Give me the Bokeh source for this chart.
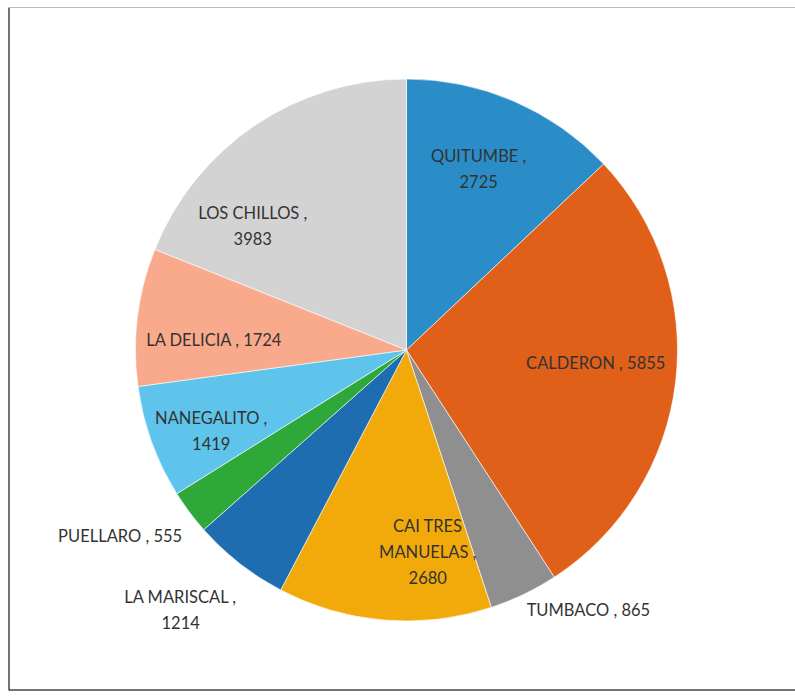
import math
from bokeh.plotting import figure
from bokeh.models import Range1d, ColumnDataSource
from bokeh.core.properties import value
from bokeh.embed import file_html
from bokeh.resources import INLINE

# ---- data ----
zones = ["QUITUMBE", "CALDERON", "TUMBACO", "CAI TRES MANUELAS", "LA MARISCAL",
         "PUELLARO", "NANEGALITO", "LA DELICIA", "LOS CHILLOS"]
counts = [2725, 5855, 865, 2680, 1214, 555, 1419, 1724, 3983]
label_texts = ["QUITUMBE ,\n2725", "CALDERON , 5855", "TUMBACO , 865",
               "CAI TRES\nMANUELAS ,\n2680", "LA MARISCAL ,\n1214", "PUELLARO , 555",
               "NANEGALITO ,\n1419", "LA DELICIA , 1724", "LOS CHILLOS ,\n3983"]

# ---- style ----
colors = ["#2a8dc7", "#e0601a", "#8f8f8f", "#f2aa0a", "#1f6db1",
          "#2fa83a", "#5ec4ec", "#f9aa8c", "#d3d3d3"]
# label placement: angle (deg, clockwise from top) and radius fraction
label_angle = [21.7, 94.0, 145.0, 174.0, 221.0, 237.0, 247.5, 273.0, 309.0]
label_rfrac = [0.72, 0.70, 1.17, 0.75, 1.27, 1.26, 0.78, 0.71, 0.73]

W, H = 795, 697
CX, CY, R = 406, 347.5, 271

total = sum(counts)
starts, ends = [], []
acc = 0.0
for c in counts:
    f0 = acc / total
    acc += c
    f1 = acc / total
    starts.append(math.pi / 2 - 2 * math.pi * f0)
    ends.append(math.pi / 2 - 2 * math.pi * f1)

src = ColumnDataSource(dict(start=starts, end=ends, color=colors, zone=zones))

p = figure(width=W, height=H, output_backend="svg", toolbar_location=None,
           x_range=Range1d(0, W), y_range=Range1d(0, H), min_border=0)
p.axis.visible = False
p.grid.visible = False
p.outline_line_color = None
p.background_fill_color = "white"

p.wedge(x=CX, y=CY, radius=R, start_angle="start", end_angle="end", direction="clock",
        fill_color="color", line_color="white", line_width=0.6, source=src)

lx, ly = [], []
for a, rf in zip(label_angle, label_rfrac):
    t = math.radians(a)
    lx.append(CX + R * rf * math.sin(t))
    ly.append(CY + R * rf * math.cos(t))

lsrc = ColumnDataSource(dict(x=lx, y=ly, text=label_texts))
p.text(x="x", y="y", text="text", source=lsrc, text_align="center", text_baseline="middle",
       text_font=value("Lato"), text_font_size="16.5px", text_color="#333333",
       text_line_height=1.3)

# frame lines (left, bottom, top)
p.segment(x0=[8.5, 8.5, 8.5], y0=[7, 7.5, H - 7], x1=[8.5, W, W], y1=[H - 7, 7.5, H - 7],
          line_color=["#444444", "#444444", "#bbbbbb"], line_width=[1.5, 1.5, 1])

open("out.html", "w").write(file_html(p, INLINE))
